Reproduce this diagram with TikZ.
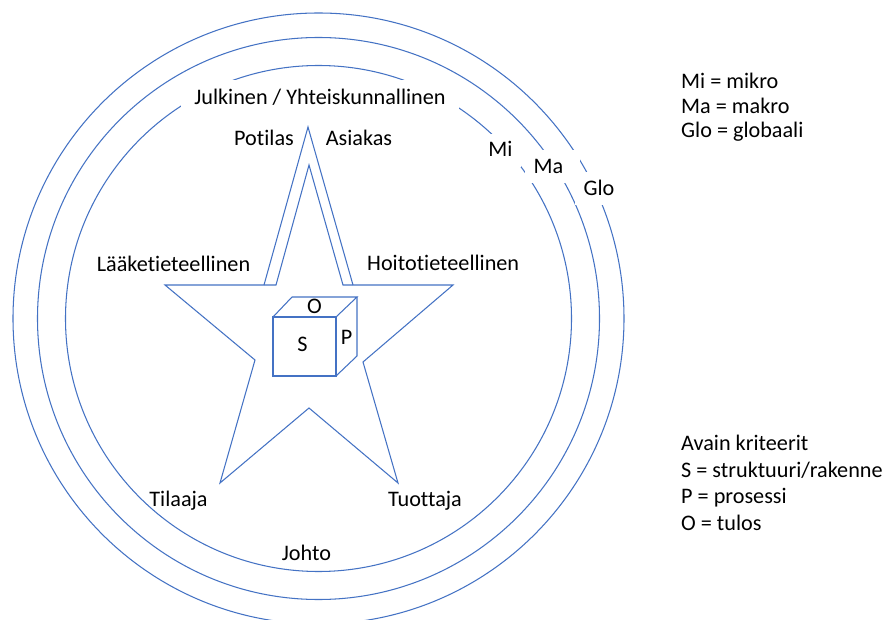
\documentclass[tikz,border=0pt]{standalone}
\usepackage{fontspec}
\setmainfont[Ligatures=NoCommon]{Carlito}
\definecolor{lineblue}{HTML}{4472C4}
\begin{document}
\begin{tikzpicture}[x=1pt,y=-1pt,
  lbl/.style={font=\fontsize{22.2}{26}\selectfont, inner sep=0pt, text=black},
  boxlbl/.style={lbl, fill=white, anchor=base},
  shape line/.style={draw=lineblue, line width=1.05pt, line join=miter}]
\fill[white] (0,0) rectangle (887,620);
\useasboundingbox (0,0) rectangle (887,620);
% rings
\coordinate (c) at (318.5,318.5);
\draw[shape line] (c) circle (253pt);
\draw[shape line] (c) circle (281pt);
\draw[shape line] (c) circle (305.5pt);
% star
\draw[shape line] (165,285) -- (276,285) -- (309,165) -- (343,285) -- (453,285)
  -- (363,362) -- (398,483) -- (309,408) -- (220,483) -- (255,360) -- cycle;
\draw[shape line] (264,285) -- (308,127) -- (353,285);
% cube
\draw[shape line] (273,317) rectangle (336,376);
\draw[shape line] (273,317) -- (292,297) -- (357,297) -- (336,317);
\draw[shape line] (336,376) -- (357,356) -- (357,297);
% white-backed labels
\node[boxlbl, text height=25pt, text depth=10pt, minimum width=278pt] (julk) at (320,105) {Julkinen / Yhteiskunnallinen};
\node[boxlbl, text height=23pt, text depth=10pt, minimum width=41pt] (mi) at (500.5,157) {Mi};
\node[boxlbl, text height=24pt, text depth=9pt, minimum width=55pt] (ma) at (552.5,174) {Ma\kern8pt};
\node[boxlbl, text height=24pt, text depth=9pt, minimum width=48pt] (glo) at (599,196) {Glo};
% plain labels
\node[lbl, anchor=base] (potilas) at (264,146) {Potilas};
\node[lbl, anchor=base] (asiakas) at (359,146) {Asiakas};
\node[lbl, anchor=base] (laake) at (173.5,272) {Lääketieteellinen};
\node[lbl, anchor=base west] (hoito) at (367,271) {Hoitotieteellinen};
\node[lbl, anchor=base] (tilaaja) at (178.5,507) {Tilaaja};
\node[lbl, anchor=base west] (tuottaja) at (388,507) {Tuottaja};
\node[lbl, anchor=base] (johto) at (306.5,560) {Johto};
% cube letters
\node[lbl, anchor=base] (o) at (314.5,314) {O};
\node[lbl, anchor=base] (s) at (302.5,352) {S};
\node[lbl, anchor=base] (p) at (346.5,345) {P};
% legends
\node[lbl, anchor=base west] (leg1) at (681,89) {Mi = mikro};
\node[lbl, anchor=base west] (leg2) at (681,113.5) {Ma = makro};
\node[lbl, anchor=base west] (leg3) at (681,138) {Glo = globaali};
\node[lbl, anchor=base west] (key0) at (681,451) {Avain kriteerit};
\node[lbl, anchor=base west] (key1) at (681,477) {S = struktuuri/rakenne};
\node[lbl, anchor=base west] (key2) at (681,503) {P = prosessi};
\node[lbl, anchor=base west] (key3) at (681,530) {O = tulos};
\end{tikzpicture}
\end{document}
